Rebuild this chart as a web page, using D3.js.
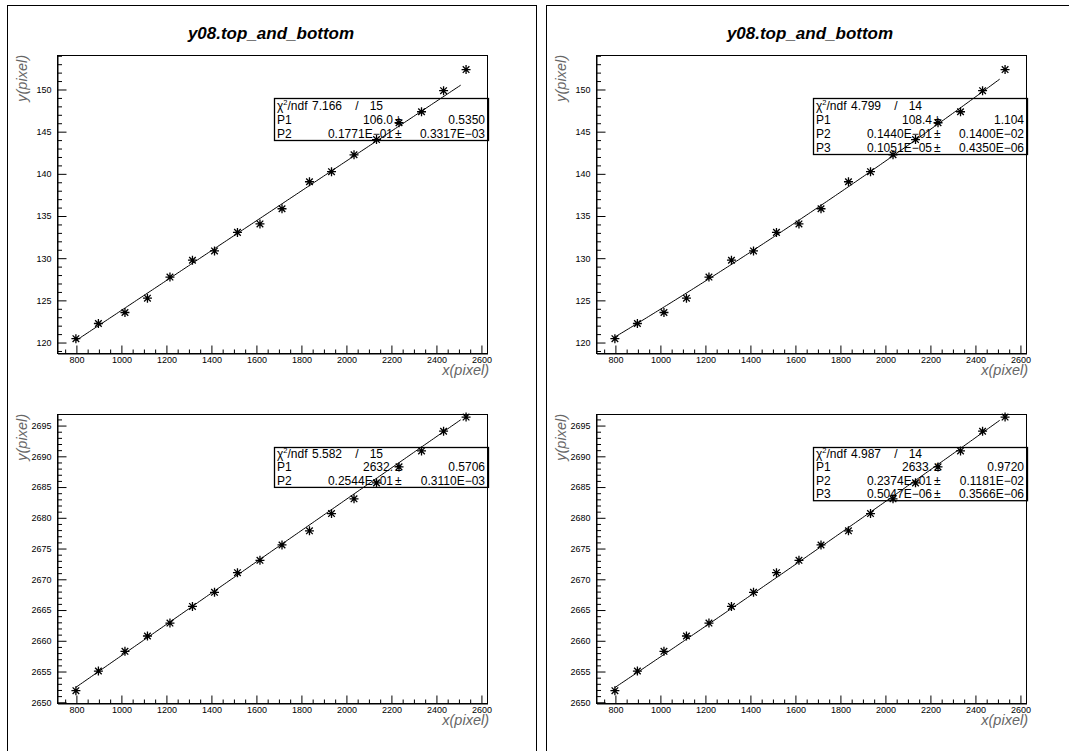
<!DOCTYPE html>
<html>
<head>
<meta charset="utf-8">
<script src="https://cdn.jsdelivr.net/npm/d3@7"></script>
<style>
  body { margin: 0; background: #fff; }
  text { font-family: 'Liberation Sans', Arial, sans-serif; }
</style>
</head>
<body>
<div class="d3-canvas"></div>
<script>
const WIDTH = 1069;
const HEIGHT = 751;

// Measured x positions of the 18 edge points (same in every pad).
const xPixel = [800, 900, 1018, 1118, 1218, 1318, 1416, 1518, 1618, 1716, 1838, 1936, 2036, 2136, 2236, 2336, 2434, 2534];
const yTopEdge = [120.4, 122.2, 123.5, 125.2, 127.7, 129.7, 130.8, 133.0, 134.0, 135.8, 139.0, 140.2, 142.2, 144.0, 146.0, 147.3, 149.8, 152.3];
const yBottomEdge = [2651.8, 2655.0, 2658.2, 2660.7, 2662.8, 2665.5, 2667.8, 2671.0, 2673.0, 2675.5, 2677.8, 2680.6, 2683.0, 2685.6, 2688.2, 2690.8, 2694.0, 2696.3];

// Fit parameters (pol1 on the left column, pol2 on the right column).
const topLinearPars = [106.0, 0.01771];
const topQuadPars = [108.4, 0.01440, 1.051e-6];
const bottomLinearPars = [2632.0, 0.02544];
const bottomQuadPars = [2633.0, 0.02374, 5.047e-7];
const fitRange = [800, 2510];

// Stat box texts.
const topLinearChi = ['7.166', '15'];
const topLinearRows = [['P1', '106.0', '0.5350'], ['P2', '0.1771E−01', '0.3317E−03']];
const topQuadChi = ['4.799', '14'];
const topQuadRows = [['P1', '108.4', '1.104'], ['P2', '0.1440E−01', '0.1400E−02'], ['P3', '0.1051E−05', '0.4350E−06']];
const bottomLinearChi = ['5.582', '15'];
const bottomLinearRows = [['P1', '2632.', '0.5706'], ['P2', '0.2544E−01', '0.3110E−03']];
const bottomQuadChi = ['4.987', '14'];
const bottomQuadRows = [['P1', '2633.', '0.9720'], ['P2', '0.2374E−01', '0.1181E−02'], ['P3', '0.5047E−06', '0.3566E−06']];

// Axis ticks.
const xMajorTicks = [800, 1000, 1200, 1400, 1600, 1800, 2000, 2200, 2400, 2600];
const yTopTicks = [120, 125, 130, 135, 140, 145, 150];
const yBottomTicks = [2650, 2655, 2660, 2665, 2670, 2675, 2680, 2685, 2690, 2695];

const titleText = 'y08.top_and_bottom';

const COLUMN_DX = 539;
const frame = {left: 57, right: 487};
const pads = [
    {top: 55, bottom: 353, yDomain: [118.7, 154.03], yTicks: yTopTicks, ys: yTopEdge,
     boxTop: 98, rowH: 14,
     fits: [{pars: topLinearPars, chi: topLinearChi, rows: topLinearRows},
            {pars: topQuadPars, chi: topQuadChi, rows: topQuadRows}]},
    {top: 414, bottom: 703, yDomain: [2649.8, 2696.8], yTicks: yBottomTicks, ys: yBottomEdge,
     boxTop: 447, rowH: 13.3,
     fits: [{pars: bottomLinearPars, chi: bottomLinearChi, rows: bottomLinearRows},
            {pars: bottomQuadPars, chi: bottomQuadChi, rows: bottomQuadRows}]}
];

const svg = d3.select('.d3-canvas')
    .append('svg')
        .attr('width', WIDTH)
        .attr('height', HEIGHT);

svg.append('rect').attr('width', WIDTH).attr('height', HEIGHT).attr('fill', '#fff');

const starPath = (() => {
    const s = 4.5, k = 3.3;
    return `M${-s},0H${s}M0,${-s}V${s}M${-k},${-k}L${k},${k}M${-k},${k}L${k},${-k}`;
})();

const STAT_FONT = 12;

[0, 1].forEach(col => {
    const dx = col * COLUMN_DX;
    const g = svg.append('g').attr('transform', `translate(${dx}, 0)`);

    // Column frame, it runs off the bottom of the page.
    g.append('rect')
        .attr('x', 7.5).attr('y', 5.5)
        .attr('width', 529).attr('height', 800)
        .attr('fill', 'none').attr('stroke', '#000').attr('stroke-width', 1);

    g.append('text')
        .attr('x', 271).attr('y', 39)
        .attr('text-anchor', 'middle')
        .attr('font-size', 17)
        .attr('font-weight', 'bold')
        .attr('font-style', 'italic')
        .text(titleText);

    const x = d3.scaleLinear().domain([716, 2627]).range([frame.left, frame.right]);

    pads.forEach(pad => {
        const fit = pad.fits[col];
        const y = d3.scaleLinear().domain(pad.yDomain).range([pad.bottom, pad.top]);
        const chart = g.append('g');

        chart.append('rect')
            .attr('x', frame.left + 0.5).attr('y', pad.top + 0.5)
            .attr('width', frame.right - frame.left).attr('height', pad.bottom - pad.top)
            .attr('fill', 'none').attr('stroke', '#000').attr('stroke-width', 1);

        // x axis: major and minor ticks pointing into the frame.
        chart.append('g').attr('transform', `translate(0.5, ${pad.bottom + 0.5})`)
            .call(d3.axisBottom(x).tickValues(xMajorTicks).tickFormat(d3.format('d'))
                .tickSize(-8).tickSizeOuter(0).tickPadding(3));
        chart.append('g').attr('transform', `translate(0.5, ${pad.bottom + 0.5})`)
            .call(d3.axisBottom(x)
                .tickValues(d3.range(750, 2627, 50).filter(v => v % 200 !== 0))
                .tickSize(-4).tickFormat(''))
            .call(a => a.select('.domain').remove());

        // y axis: major every 5, minor every 1.
        chart.append('g').attr('transform', `translate(${frame.left + 0.5}, 0.5)`)
            .call(d3.axisLeft(y).tickValues(pad.yTicks).tickFormat(d3.format('d'))
                .tickSize(-9).tickSizeOuter(0).tickPadding(6));
        const yMinor = d3.range(Math.ceil(pad.yDomain[0]), pad.yDomain[1], 1).filter(v => v % 5 !== 0);
        chart.append('g').attr('transform', `translate(${frame.left + 0.5}, 0.5)`)
            .call(d3.axisLeft(y).tickValues(yMinor).tickSize(-4.5).tickFormat(''))
            .call(a => a.select('.domain').remove());

        chart.selectAll('.tick text')
            .attr('font-family', "'Liberation Sans', Arial, sans-serif")
            .attr('font-size', 9)
            .attr('fill', '#000');
        chart.selectAll('.domain, .tick line').attr('stroke', '#000');

        // Axis titles.
        chart.append('text')
            .attr('x', frame.right + 2).attr('y', pad.bottom + 22)
            .attr('text-anchor', 'end')
            .attr('font-family', "'Liberation Mono', monospace")
            .attr('font-style', 'italic')
            .attr('font-size', 14.5)
            .attr('fill', '#666')
            .text('x(pixel)');
        chart.append('text')
            .attr('transform', `translate(27, ${pad.top}) rotate(-90)`)
            .attr('text-anchor', 'end')
            .attr('font-family', "'Liberation Mono', monospace")
            .attr('font-style', 'italic')
            .attr('font-size', 14.5)
            .attr('fill', '#666')
            .text('y(pixel)');

        // Stats box (hollow, data shows through it).
        const L = 274, R = 488;
        const nRows = fit.rows.length + 1;
        const box = chart.append('g').attr('font-size', STAT_FONT);
        box.append('rect')
            .attr('x', L + 0.5).attr('y', pad.boxTop + 0.5)
            .attr('width', R - L).attr('height', nRows * pad.rowH)
            .attr('fill', 'none').attr('stroke', '#000').attr('stroke-width', 1.3);
        const base = i => pad.boxTop + pad.rowH * (i + 0.5) + 4.5;
        const chiText = box.append('text').attr('x', L + 3).attr('y', base(0));
        chiText.append('tspan').text('χ');
        chiText.append('tspan').attr('dy', -5).attr('font-size', 7.5).text('2');
        chiText.append('tspan').attr('dy', 5).text('/ndf');
        box.append('text').attr('x', L + 38).attr('y', base(0)).text(fit.chi[0]);
        box.append('text').attr('x', L + 83).attr('y', base(0)).attr('text-anchor', 'middle').text('/');
        box.append('text').attr('x', L + 109).attr('y', base(0)).attr('text-anchor', 'end').text(fit.chi[1]);
        fit.rows.forEach((r, i) => {
            const yy = base(i + 1);
            box.append('text').attr('x', L + 3).attr('y', yy).text(r[0]);
            box.append('text').attr('x', L + 119).attr('y', yy).attr('text-anchor', 'end').text(r[1]);
            box.append('text').attr('x', L + 121).attr('y', yy).text('±');
            box.append('text').attr('x', R - 3).attr('y', yy).attr('text-anchor', 'end').text(r[2]);
        });

        // Fitted polynomial over the fit range.
        const poly = v => fit.pars.reduce((s, p, i) => s + p * Math.pow(v, i), 0);
        const fx = d3.range(fitRange[0], fitRange[1] + 1, 10);
        chart.append('path')
            .datum(fx)
            .attr('d', d3.line().x(v => x(v)).y(v => y(poly(v))))
            .attr('fill', 'none')
            .attr('stroke', '#000')
            .attr('stroke-width', 1);

        // Data points, star markers.
        chart.selectAll('.pt')
            .data(xPixel.map((v, i) => ({x: v, y: pad.ys[i]})))
            .enter()
            .append('path')
            .attr('class', 'pt')
            .attr('transform', d => `translate(${x(d.x)}, ${y(d.y)})`)
            .attr('d', starPath)
            .attr('fill', 'none')
            .attr('stroke', '#000')
            .attr('stroke-width', 1.3);
    });
});
</script>
</body>
</html>
